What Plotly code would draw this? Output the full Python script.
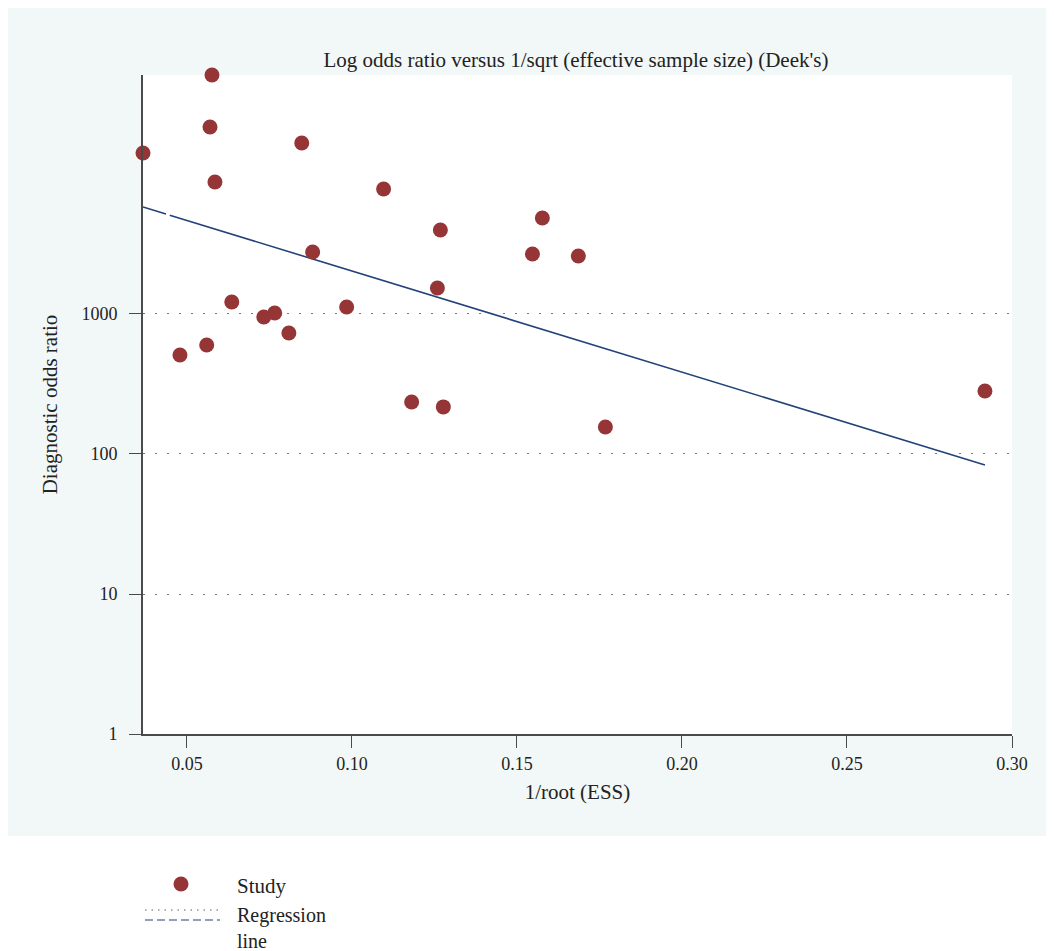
import plotly.graph_objects as go

# Study data: x = 1/root(ESS), y = diagnostic odds ratio
inv_root_ess = [0.0367, 0.0479, 0.0576, 0.0570, 0.0585, 0.0560, 0.0636, 0.0733,
                0.0766, 0.0809, 0.0848, 0.0881, 0.0984, 0.1096, 0.1181, 0.1259,
                0.1268, 0.1277, 0.1547, 0.1577, 0.1686, 0.1768, 0.2918]
dor = [14125, 510, 50900, 21670, 8770, 601, 1218, 952,
       1016, 731, 16640, 2773, 1122, 7815, 235, 1534,
       3981, 217, 2683, 4850, 2596, 156, 282]

# Regression line endpoints (x, fitted DOR)
reg_x = [0.0367, 0.2918]
reg_y = [5810, 83.5]

y_tickvals = [1, 10, 100, 1000]
y_ticktext = ["1", "10", "100", "1000"]
x_tickvals = [0.05, 0.10, 0.15, 0.20, 0.25, 0.30]
x_ticktext = ["0.05", "0.10", "0.15", "0.20", "0.25", "0.30"]

FONT = "Liberation Serif"
MARKER_COLOR = "#953536"
LINE_COLOR = "#22427a"
PANEL = "#f2f7f7"
AXIS = "#4a4a4a"
TXT = "#222222"

W, H = 1046, 943
PW, PH = 869, 659  # plot area size in px


def px(sx):
    # screen x (reference) -> paper x
    return (sx - 143) / PW


def py(sy):
    # screen y (reference) -> paper y
    return (734 - sy) / PH


fig = go.Figure()
fig.add_trace(go.Scatter(
    x=reg_x, y=reg_y, mode="lines",
    line=dict(color=LINE_COLOR, width=1.6, dash="24px,4px,2000px"),
    showlegend=False, hoverinfo="skip"))
fig.add_trace(go.Scatter(
    x=inv_root_ess, y=dor, mode="markers",
    marker=dict(color=MARKER_COLOR, size=15, line=dict(width=0)),
    showlegend=False, cliponaxis=False))

shapes = [
    # outer panel
    dict(type="rect", xref="paper", yref="paper", x0=px(8), x1=px(1060), y0=py(836), y1=py(8),
         fillcolor=PANEL, line=dict(width=0), layer="below"),
    # white plot area
    dict(type="rect", xref="paper", yref="paper", x0=0, x1=1, y0=0, y1=1,
         fillcolor="white", line=dict(width=0), layer="below"),
]

# Legend (drawn manually)
shapes.append(dict(type="circle", xref="paper", yref="paper", xsizemode="pixel", ysizemode="pixel",
                   xanchor=px(181), yanchor=py(884), x0=-7.5, x1=7.5, y0=-7.5, y1=7.5,
                   fillcolor=MARKER_COLOR, line=dict(width=0)))
shapes.append(dict(type="line", xref="paper", yref="paper", x0=px(145), x1=px(220),
                   y0=py(910), y1=py(910),
                   line=dict(color="#555d70", width=1.2, dash="1.5px,5px")))
shapes.append(dict(type="line", xref="paper", yref="paper", x0=px(145), x1=px(220),
                   y0=py(920), y1=py(920),
                   line=dict(color=LINE_COLOR, width=1.2, dash="8px,4px")))

annotations = [
    dict(text="Study", xref="paper", yref="paper", x=px(235), y=py(886),
         xanchor="left", yanchor="middle", showarrow=False,
         font=dict(family=FONT, size=21, color=TXT)),
    dict(text="Regression<br>line", xref="paper", yref="paper", x=px(235),
         y=py(902), xanchor="left", yanchor="top", align="left", showarrow=False,
         font=dict(family=FONT, size=20, color=TXT)),
]

fig.update_layout(
    width=W, height=H,
    margin=dict(l=135, r=W - 135 - PW, t=67, b=H - 67 - PH),
    paper_bgcolor="white", plot_bgcolor="white",
    font=dict(family=FONT, size=18, color=TXT),
    title=dict(text="Log odds ratio versus 1/sqrt (effective sample size) (Deek's)",
               x=px(576), xref="paper", y=1 - (60 - 8) / H, yref="container",
               xanchor="center", yanchor="middle",
               font=dict(family=FONT, size=21, color=TXT)),
    shapes=shapes, annotations=annotations, showlegend=False,
)

fig.update_xaxes(
    range=[0.0367, 0.30], tickvals=x_tickvals, ticktext=x_ticktext,
    showline=True, linecolor=AXIS, linewidth=2, mirror=False,
    ticks="outside", ticklen=12, tickwidth=1, tickcolor=AXIS,
    showgrid=False, zeroline=False,
    title=dict(text="1/root (ESS)", standoff=12, font=dict(family=FONT, size=21)),
    tickfont=dict(family=FONT, size=18),
)
fig.update_yaxes(
    type="log", range=[0, 4.707], tickvals=y_tickvals, ticktext=y_ticktext,
    showline=True, linecolor=AXIS, linewidth=2,
    ticks="outside", ticklen=12, tickwidth=1, tickcolor=AXIS,
    ticklabelstandoff=8,
    showgrid=True, gridcolor="#777777", gridwidth=1, griddash="2px,10px",
    zeroline=False,
    title=dict(text="Diagnostic odds ratio", standoff=18, font=dict(family=FONT, size=21)),
    tickfont=dict(family=FONT, size=18),
)

fig.write_html(
    "out.html",
    post_script="document.documentElement.style.overflow='hidden';"
                "document.body.style.overflow='hidden';",
)
